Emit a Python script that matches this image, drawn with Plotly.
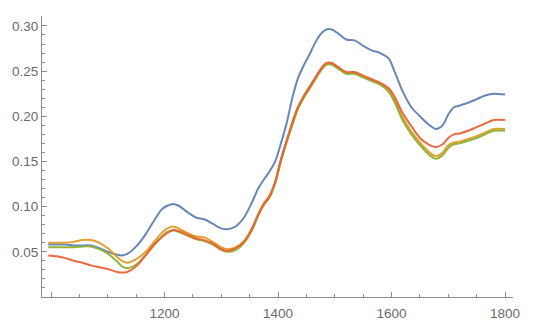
import plotly.graph_objects as go

wavenumber = [995, 1010, 1025, 1040, 1055, 1070, 1085, 1100, 1115, 1125, 1135, 1150, 1165, 1180,
              1195, 1205, 1215, 1225, 1240, 1255, 1270, 1285, 1300, 1310, 1325, 1340, 1355, 1365,
              1375, 1385, 1395, 1405, 1415, 1425, 1435, 1445, 1455, 1465, 1475, 1485, 1495, 1505,
              1520, 1535, 1550, 1565, 1580, 1595, 1605, 1620, 1635, 1650, 1665, 1678, 1690, 1700,
              1710, 1720, 1735, 1750, 1765, 1780, 1800]

blue = [0.058, 0.058, 0.058, 0.057, 0.057, 0.057, 0.054, 0.050, 0.047, 0.046, 0.048, 0.056, 0.068, 0.083,
        0.097, 0.101, 0.103, 0.101, 0.094, 0.088, 0.086, 0.081, 0.076, 0.075, 0.078, 0.088, 0.106, 0.120,
        0.130, 0.139, 0.150, 0.170, 0.192, 0.220, 0.242, 0.256, 0.268, 0.281, 0.291, 0.296, 0.296, 0.292,
        0.285, 0.284, 0.278, 0.273, 0.270, 0.264, 0.250, 0.227, 0.210, 0.200, 0.191, 0.186, 0.190, 0.202,
        0.210, 0.212, 0.215, 0.219, 0.223, 0.225, 0.224]

orange = [0.060, 0.060, 0.060, 0.061, 0.063, 0.063, 0.060, 0.054, 0.045, 0.040, 0.038, 0.042, 0.049, 0.060,
          0.071, 0.076, 0.078, 0.076, 0.071, 0.067, 0.066, 0.061, 0.055, 0.053, 0.055, 0.062, 0.077, 0.092,
          0.104, 0.112, 0.128, 0.152, 0.172, 0.192, 0.210, 0.222, 0.232, 0.242, 0.252, 0.258, 0.258, 0.254,
          0.248, 0.248, 0.244, 0.240, 0.236, 0.229, 0.218, 0.198, 0.183, 0.171, 0.161, 0.156, 0.160, 0.168,
          0.171, 0.172, 0.175, 0.178, 0.182, 0.186, 0.186]

green = [0.055, 0.055, 0.055, 0.055, 0.056, 0.056, 0.053, 0.048, 0.040, 0.034, 0.032, 0.036, 0.045, 0.056,
         0.067, 0.072, 0.074, 0.072, 0.068, 0.064, 0.062, 0.058, 0.052, 0.050, 0.052, 0.060, 0.075, 0.090,
         0.102, 0.110, 0.126, 0.150, 0.171, 0.190, 0.208, 0.220, 0.230, 0.240, 0.250, 0.257, 0.257, 0.253,
         0.247, 0.247, 0.243, 0.239, 0.235, 0.227, 0.216, 0.195, 0.180, 0.168, 0.158, 0.153, 0.157, 0.165,
         0.169, 0.170, 0.173, 0.176, 0.180, 0.184, 0.184]

red = [0.046, 0.045, 0.043, 0.040, 0.038, 0.035, 0.033, 0.031, 0.028, 0.027, 0.028, 0.034, 0.045, 0.057,
       0.066, 0.071, 0.074, 0.073, 0.069, 0.065, 0.063, 0.059, 0.053, 0.051, 0.054, 0.061, 0.077, 0.091,
       0.103, 0.112, 0.127, 0.152, 0.173, 0.193, 0.210, 0.222, 0.232, 0.242, 0.252, 0.259, 0.259, 0.255,
       0.249, 0.249, 0.245, 0.241, 0.237, 0.231, 0.222, 0.203, 0.189, 0.176, 0.169, 0.166, 0.169, 0.176,
       0.180, 0.181, 0.184, 0.188, 0.192, 0.196, 0.196]

series = [("blue", blue, "#5E81B5"), ("orange", orange, "#E19C24"),
          ("green", green, "#8FB032"), ("red", red, "#EB6235")]

x_tickvals = [1000, 1200, 1400, 1600, 1800]
x_ticktext = ["", "1200", "1400", "1600", "1800"]
y_tickvals = [0.05, 0.10, 0.15, 0.20, 0.25, 0.30]
y_ticktext = ["0.05", "0.10", "0.15", "0.20", "0.25", "0.30"]

fig = go.Figure()
for name, vals, col in series:
    fig.add_trace(go.Scatter(x=wavenumber, y=vals, mode="lines", name=name,
                             line=dict(color=col, width=2, shape="spline", smoothing=0.8),
                             opacity=0.95))

axis_color = "#8c8c8c"
font_color = "#6a6a6a"
fig.update_layout(
    width=540, height=333,
    margin=dict(l=37, r=27, t=16, b=28),
    paper_bgcolor="white", plot_bgcolor="white",
    showlegend=False,
    font=dict(family="Liberation Sans, Arial, sans-serif", size=13.5, color=font_color),
    xaxis=dict(range=[984, 1814], showgrid=False, zeroline=False, showline=True,
               linecolor=axis_color, linewidth=1, ticks="inside", ticklen=5,
               tickcolor=axis_color, tickvals=x_tickvals, ticktext=x_ticktext,
               ticklabelstandoff=4,
               minor=dict(dtick=50, tick0=1000, ticks="inside", ticklen=3, tickcolor=axis_color)),
    yaxis=dict(range=[0, 0.311], showgrid=False, zeroline=False, showline=True,
               linecolor=axis_color, linewidth=1, ticks="inside", ticklen=5,
               tickcolor=axis_color, tickvals=y_tickvals, ticktext=y_ticktext,
               minor=dict(dtick=0.01, tick0=0, ticks="inside", ticklen=3, tickcolor=axis_color)),
)

fig.write_html("out.html")
